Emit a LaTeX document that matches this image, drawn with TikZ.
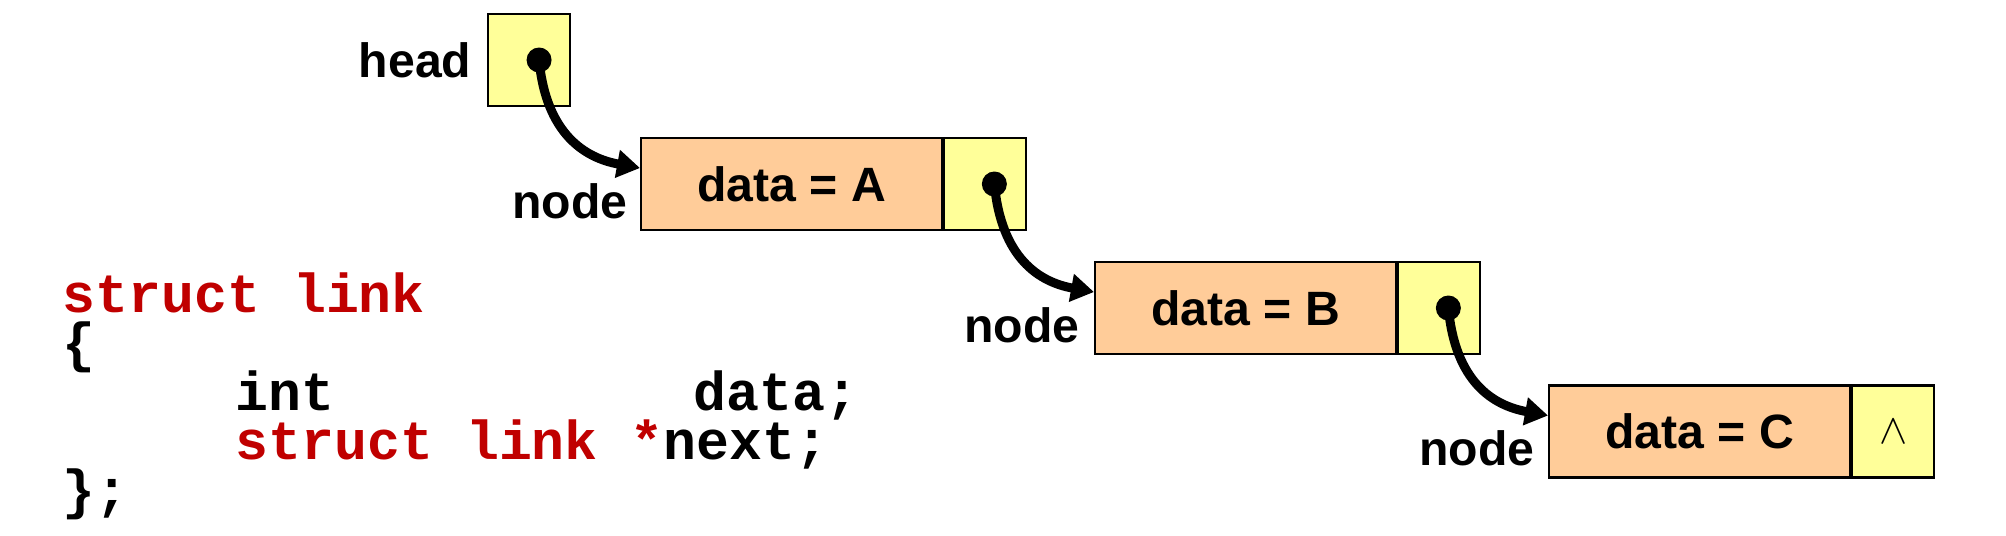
\documentclass[tikz,border=0pt]{standalone}
\usepackage{fontspec}
\setmainfont{Liberation Sans}
\newfontfamily\codefont{Liberation Mono}
\usetikzlibrary{arrows.meta,calc}
\definecolor{ptrfill}{RGB}{255,255,153}
\definecolor{datafill}{RGB}{255,204,153}
\definecolor{kwred}{RGB}{192,0,0}
\begin{document}
\begin{tikzpicture}[x=0.01cm,y=-0.01cm,
  box/.style={draw=black, line width=0.6pt, inner sep=0pt, minimum height=0.92cm, anchor=west,
              font=\fontsize{13.7}{16}\selectfont\bfseries},
  databox/.style={box, fill=datafill, minimum width=3.01cm},
  ptrbox/.style={box, fill=ptrfill, minimum width=0.82cm},
  lbl/.style={font=\fontsize{13.7}{16}\selectfont\bfseries, inner sep=0pt},
  dotnode/.style={circle, fill=black, minimum size=0.25cm, inner sep=0pt},
  link/.style={line width=0.09cm, -{Triangle[length=0.23cm,width=0.27cm]}},
  code/.style={font=\codefont\bfseries\fontsize{15.6}{18}\selectfont, anchor=base west, inner sep=0pt},
]
\useasboundingbox (0,0) rectangle (2006,535);

% boxes
\node[ptrbox] (head) at (487,60) {};
\node[databox] (A) at (640,184) {data = A};
\node[ptrbox] (pA) at (A.east) {};
\node[databox] (B) at (1094,308) {data = B};
\node[ptrbox] (pB) at (B.east) {};
\node[databox] (C) at (1548,431.5) {data = C};
\node[ptrbox] (pC) at (C.east) {\fontsize{12}{14}\selectfont$\wedge$};

% labels
\node[lbl, anchor=east] (hl) at ($(head.west)+(-15,0)$) {head};
\node[lbl, anchor=base east] (nA) at ($(A.south west)+(-12,-13)$) {node};
\node[lbl, anchor=base east] (nB) at ($(B.south west)+(-14,-13)$) {node};
\node[lbl, anchor=base east] (nC) at ($(C.south west)+(-13,-13)$) {node};

% dots
\node[dotnode] (dh) at ($(head.center)+(10,0)$) {};
\node[dotnode] (dA) at ($(pA.center)+(9,0)$) {};
\node[dotnode] (dB) at ($(pB.center)+(9,0)$) {};

% targets
\coordinate (tA) at ($(A.west)+(0,-16)$);
\coordinate (tB) at ($(B.west)+(0,-16)$);
\coordinate (tC) at ($(C.west)+(0,-16)$);

% links
\draw[link] (dh.center) .. controls ($(dh.center)+(7,74)$) and ($(tA)+(-55,-10)$) .. (tA);
\draw[link] (dA.center) .. controls ($(dA.center)+(7,74)$) and ($(tB)+(-55,-10)$) .. (tB);
\draw[link] (dB.center) .. controls ($(dB.center)+(7,74)$) and ($(tC)+(-55,-10)$) .. (tC);

% code
\node[code, text=kwred] (c1) at (62,312) {struct link};
\node[code] (c2) at (62,361) {\{};
\node[code] (c3a) at (235,410) {int};
\node[code] (c3b) at (693,410) {data;};
\node[code] (c4) at (235,459) {\textcolor{kwred}{struct link *}next;};
\node[code] (c5) at (62,508) {\};};
\end{tikzpicture}
\end{document}
